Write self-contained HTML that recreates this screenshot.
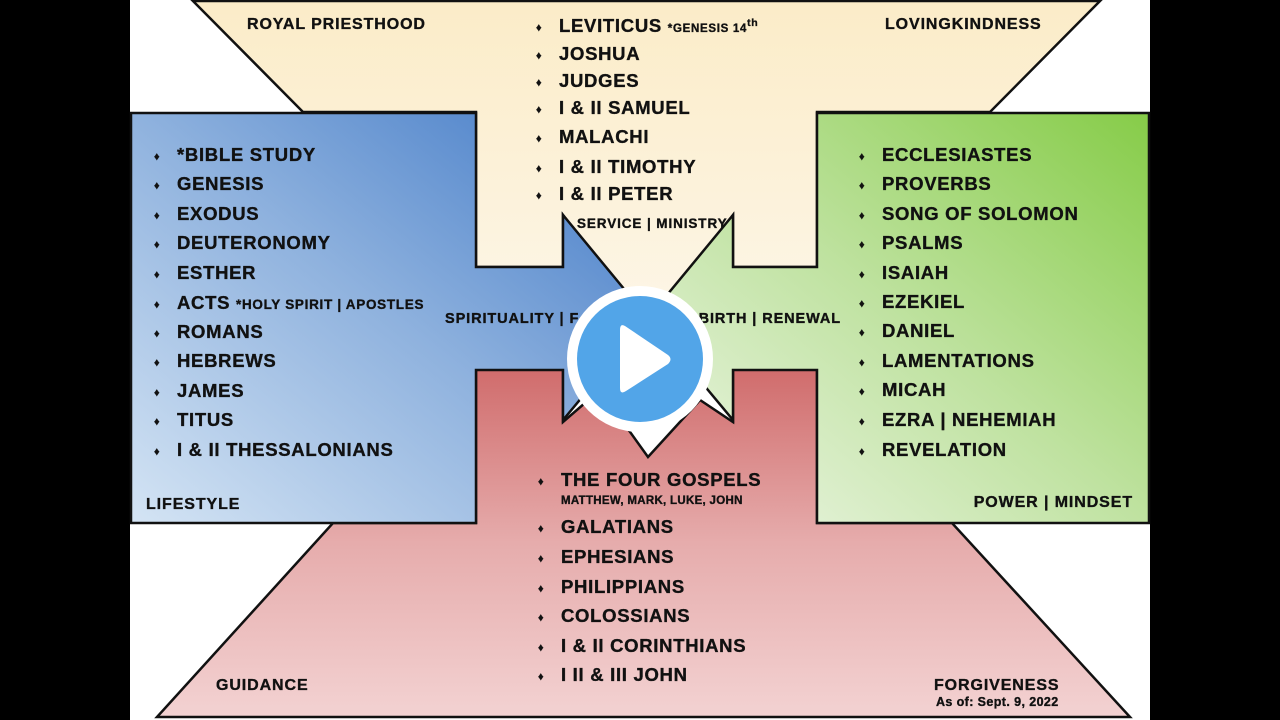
<!DOCTYPE html>
<html><head><meta charset="utf-8"><style>
html,body{margin:0;padding:0;background:#000;}
svg{display:block;}
text{font-family:"Liberation Sans",Arial,sans-serif;font-weight:bold;fill:#111;stroke:#111;stroke-width:0.35px;letter-spacing:0.9px;}
.l text{letter-spacing:0.7px;}
.l{font-size:18.5px;}
</style></head><body>
<svg width="1280" height="720" viewBox="0 0 1280 720" xmlns="http://www.w3.org/2000/svg">
<defs>
<linearGradient id="gy" x1="0" y1="0" x2="0" y2="1"><stop offset="0" stop-color="#fbecc8"/><stop offset="1" stop-color="#fdf6e8"/></linearGradient>
<linearGradient id="gb" x1="1" y1="0" x2="0" y2="1"><stop offset="0" stop-color="#3f78c6"/><stop offset="0.5" stop-color="#8fb2de"/><stop offset="1" stop-color="#d4e4f4"/></linearGradient>
<linearGradient id="gg" x1="1" y1="0" x2="0" y2="1"><stop offset="0" stop-color="#86cc48"/><stop offset="0.5" stop-color="#bfe2a0"/><stop offset="1" stop-color="#f0f7ea"/></linearGradient>
<linearGradient id="gr" x1="0" y1="0" x2="0" y2="1"><stop offset="0" stop-color="#d06c6c"/><stop offset="0.5" stop-color="#e6acac"/><stop offset="1" stop-color="#f3d2d2"/></linearGradient>
</defs>
<rect x="130" y="0" width="1020" height="720" fill="#fff"/>
<polygon points="193,1 1100,1 990,112 817,112 817,267 733,267 733,215 648,330 563,215 563,267 476,267 476,112 303,112" fill="url(#gy)" stroke="#111" stroke-width="2.5"/>
<polygon points="476,369 563,369 563,422 600,390 648,457 700,400 733,422 733,369 817,369 817,523 952,523 1130,717 157,717 333,523 476,523" fill="url(#gr)" stroke="#111" stroke-width="2.5"/>
<polygon points="131,113 476,113 476,267 563,267 563,215 648,318 563,420 563,370 476,370 476,523 131,523" fill="url(#gb)" stroke="#111" stroke-width="2.5"/>
<polygon points="1149,113 817,113 817,267 733,267 733,215 648,318 733,420 733,370 817,370 817,523 1149,523" fill="url(#gg)" stroke="#111" stroke-width="2.5"/>

<text x="247" y="29" font-size="16">ROYAL PRIESTHOOD</text>
<text x="885" y="29" font-size="16">LOVINGKINDNESS</text>
<g class="l">
<text x="536" y="31" font-size="11">♦</text><text x="559" y="32">LEVITICUS <tspan font-size="11.5">*GENESIS 14</tspan><tspan font-size="10.5" dy="-6">th</tspan></text>
<text x="536" y="59" font-size="11">♦</text><text x="559" y="60">JOSHUA</text>
<text x="536" y="86" font-size="11">♦</text><text x="559" y="87">JUDGES</text>
<text x="536" y="113" font-size="11">♦</text><text x="559" y="114">I &amp; II SAMUEL</text>
<text x="536" y="142" font-size="11">♦</text><text x="559" y="143">MALACHI</text>
<text x="536" y="172" font-size="11">♦</text><text x="559" y="173">I &amp; II TIMOTHY</text>
<text x="536" y="199" font-size="11">♦</text><text x="559" y="200">I &amp; II PETER</text>
</g>
<text x="577" y="228" font-size="13.5">SERVICE | MINISTRY</text>

<g class="l">
<text x="154" y="160" font-size="11">♦</text><text x="177" y="161">*BIBLE STUDY</text>
<text x="154" y="189" font-size="11">♦</text><text x="177" y="190">GENESIS</text>
<text x="154" y="219" font-size="11">♦</text><text x="177" y="220">EXODUS</text>
<text x="154" y="248" font-size="11">♦</text><text x="177" y="249">DEUTERONOMY</text>
<text x="154" y="278" font-size="11">♦</text><text x="177" y="279">ESTHER</text>
<text x="154" y="308" font-size="11">♦</text><text x="177" y="309">ACTS <tspan font-size="13.5">*HOLY SPIRIT | APOSTLES</tspan></text>
<text x="154" y="337" font-size="11">♦</text><text x="177" y="338">ROMANS</text>
<text x="154" y="366" font-size="11">♦</text><text x="177" y="367">HEBREWS</text>
<text x="154" y="396" font-size="11">♦</text><text x="177" y="397">JAMES</text>
<text x="154" y="425" font-size="11">♦</text><text x="177" y="426">TITUS</text>
<text x="154" y="455" font-size="11">♦</text><text x="177" y="456">I &amp; II THESSALONIANS</text>
</g>
<text x="146" y="509" font-size="16">LIFESTYLE</text>
<text x="445" y="323" font-size="14.5">SPIRITUALITY | F</text>
<text x="841" y="323" font-size="14.5" text-anchor="end">BIRTH | RENEWAL</text>

<g class="l">
<text x="859" y="160" font-size="11">♦</text><text x="882" y="161">ECCLESIASTES</text>
<text x="859" y="189" font-size="11">♦</text><text x="882" y="190">PROVERBS</text>
<text x="859" y="219" font-size="11">♦</text><text x="882" y="220">SONG OF SOLOMON</text>
<text x="859" y="248" font-size="11">♦</text><text x="882" y="249">PSALMS</text>
<text x="859" y="278" font-size="11">♦</text><text x="882" y="279">ISAIAH</text>
<text x="859" y="307" font-size="11">♦</text><text x="882" y="308">EZEKIEL</text>
<text x="859" y="336" font-size="11">♦</text><text x="882" y="337">DANIEL</text>
<text x="859" y="366" font-size="11">♦</text><text x="882" y="367">LAMENTATIONS</text>
<text x="859" y="395" font-size="11">♦</text><text x="882" y="396">MICAH</text>
<text x="859" y="425" font-size="11">♦</text><text x="882" y="426">EZRA | NEHEMIAH</text>
<text x="859" y="455" font-size="11">♦</text><text x="882" y="456">REVELATION</text>
</g>
<text x="1133" y="507" font-size="16" text-anchor="end">POWER | MINDSET</text>

<g class="l">
<text x="538" y="485" font-size="11">♦</text><text x="561" y="486">THE FOUR GOSPELS</text>
<text x="561" y="504" font-size="11.5" style="letter-spacing:0.3px">MATTHEW, MARK, LUKE, JOHN</text>
<text x="538" y="532" font-size="11">♦</text><text x="561" y="533">GALATIANS</text>
<text x="538" y="562" font-size="11">♦</text><text x="561" y="563">EPHESIANS</text>
<text x="538" y="592" font-size="11">♦</text><text x="561" y="593">PHILIPPIANS</text>
<text x="538" y="621" font-size="11">♦</text><text x="561" y="622">COLOSSIANS</text>
<text x="538" y="651" font-size="11">♦</text><text x="561" y="652">I &amp; II CORINTHIANS</text>
<text x="538" y="680" font-size="11">♦</text><text x="561" y="681">I II &amp; III JOHN</text>
</g>
<text x="216" y="690" font-size="16">GUIDANCE</text>
<text x="934" y="690" font-size="16">FORGIVENESS</text>
<text x="936" y="706" font-size="12.5" style="letter-spacing:0.4px">As of: Sept. 9, 2022</text>

<circle cx="640" cy="359" r="73" fill="#fff"/>
<circle cx="640" cy="359" r="63" fill="#52a5e8"/>
<path d="M625,326 Q620,323 620,330 L620,388 Q620,395 626,391 L668,364 Q673,359 668,355 Z" fill="#fff"/>
</svg>
</body></html>
